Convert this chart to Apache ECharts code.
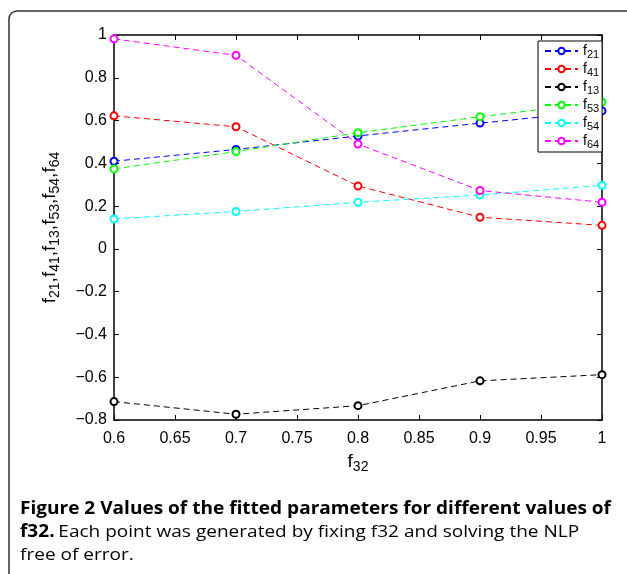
<!DOCTYPE html>
<html>
<head>
<meta charset="utf-8">
<title>Figure 2</title>
<script src="https://cdn.jsdelivr.net/npm/echarts@6/dist/echarts.min.js"></script>
<style>
  html, body { margin: 0; padding: 0; background: #fff; }
  #chart { width: 627px; height: 574px; }
</style>
</head>
<body>
<div id="chart"></div>
<script>
// f32 values on the x axis
var f32Values = [0.6, 0.7, 0.8, 0.9, 1.0]
// fitted parameters
var f21 = [0.41, 0.465, 0.528, 0.588, 0.645]
var f41 = [0.622, 0.571, 0.294, 0.148, 0.11]
var f13 = [-0.714, -0.773, -0.733, -0.617, -0.588]
var f53 = [0.374, 0.455, 0.543, 0.618, 0.686]
var f54 = [0.14, 0.175, 0.218, 0.252, 0.297]
var f64 = [0.982, 0.905, 0.49, 0.273, 0.218]

var seriesNames = ['f21', 'f41', 'f13', 'f53', 'f54', 'f64']
var seriesValues = [f21, f41, f13, f53, f54, f64]
var seriesColors = ['#0000ff', '#ff0000', '#000000', '#00ff00', '#00ffff', '#ff00ff']

var xTicks = { min: 0.6, max: 1, interval: 0.05 }
var yTicks = { min: -0.8, max: 1, interval: 0.2 }

// f + subscript, used for the axis names
var subRich = {
  m: { fontFamily: 'Liberation Sans', fontSize: 19, color: '#000', lineHeight: 24, verticalAlign: 'middle' },
  s: { fontFamily: 'Liberation Sans', fontSize: 14, color: '#000', lineHeight: 12, verticalAlign: 'bottom' }
}

function subName(name) {
  return '{m|' + name.charAt(0) + '}{s|' + name.slice(1) + '}'
}

function buildSeries() {
  return seriesNames.map(function (name, i) {
    return {
      name: name,
      type: 'line',
      data: f32Values.map(function (x, j) { return [x, seriesValues[i][j]] }),
      symbol: 'emptyCircle',
      symbolSize: 7,
      lineStyle: { color: seriesColors[i], width: 1, type: [6, 4] },
      itemStyle: { color: seriesColors[i], borderColor: seriesColors[i], borderWidth: 1 },
      emphasis: { disabled: true },
      animation: false
    }
  })
}

var chartDom = document.getElementById('chart')
var myChart = echarts.init(chartDom)

var tickLabel = { fontFamily: 'Liberation Sans', fontSize: 16, color: '#000' }
var boxLine = { show: true, onZero: false, lineStyle: { color: '#000', width: 1.5 } }
var boxTick = { inside: true, length: 5, lineStyle: { color: '#000' } }

var option = {
  backgroundColor: '#fff',
  grid: { left: 114, right: 25, top: 35, bottom: 154 },
  legend: {
    orient: 'vertical',
    left: 538,
    top: 41,
    padding: [3, 3, 2, 6],
    itemWidth: 33,
    itemHeight: 8,
    itemGap: 2,
    backgroundColor: '#fff',
    borderColor: '#000',
    borderWidth: 1,
    data: seriesNames,
    formatter: function (name) {
      return '{m|f}{s|' + name.slice(1) + '}'
    },
    textStyle: {
      rich: {
        m: { fontFamily: 'Liberation Sans', fontSize: 14, color: '#000', lineHeight: 18, verticalAlign: 'middle' },
        s: { fontFamily: 'Liberation Sans', fontSize: 11, color: '#000', lineHeight: 4, verticalAlign: 'bottom' }
      }
    }
  },
  xAxis: [
    {
      type: 'value',
      min: xTicks.min,
      max: xTicks.max,
      interval: xTicks.interval,
      name: subName('f32'),
      nameLocation: 'middle',
      nameGap: 30,
      nameTextStyle: { rich: subRich },
      axisLine: boxLine,
      axisTick: boxTick,
      axisLabel: Object.assign({ margin: 11, formatter: function (v) { return String(+v.toFixed(2)) } }, tickLabel),
      splitLine: { show: false }
    },
    {
      type: 'value',
      position: 'top',
      min: xTicks.min,
      max: xTicks.max,
      interval: xTicks.interval,
      axisLine: boxLine,
      axisTick: boxTick,
      axisLabel: { show: false },
      splitLine: { show: false }
    }
  ],
  yAxis: [
    {
      type: 'value',
      min: yTicks.min,
      max: yTicks.max,
      interval: yTicks.interval,
      name: seriesNames.map(subName).join('{m|,}'),
      nameLocation: 'middle',
      nameRotate: 90,
      nameGap: 52,
      nameTextStyle: { rich: subRich },
      axisLine: boxLine,
      axisTick: boxTick,
      axisLabel: Object.assign({ margin: 7, formatter: function (v) { return String(+v.toFixed(1)).replace('-', '\u2212') } }, tickLabel),
      splitLine: { show: false }
    },
    {
      type: 'value',
      position: 'right',
      min: yTicks.min,
      max: yTicks.max,
      interval: yTicks.interval,
      axisLine: boxLine,
      axisTick: boxTick,
      axisLabel: { show: false },
      splitLine: { show: false }
    }
  ],
  graphic: [
    {
      type: 'rect',
      shape: { x: 9, y: 11, width: 700, height: 700, r: 8 },
      style: { fill: 'none', stroke: '#333', lineWidth: 1.5 },
      silent: true
    },
    {
      type: 'text',
      x: 20,
      y: 498,
      scaleX: 1.12,
      style: {
        text: '{b|Figure 2 Values of the fitted parameters for different values of}\n{b|f32.} {r|Each point was generated by fixing f32 and solving the NLP}\n{r|free of error.}',
        rich: {
          b: { fontFamily: 'Open Sans', fontWeight: 'bold', fontSize: 17, color: '#333', lineHeight: 23 },
          r: { fontFamily: 'Open Sans', fontSize: 17, color: '#555', lineHeight: 23 }
        }
      },
      silent: true
    }
  ],
  series: buildSeries()
}
option && myChart.setOption(option)
</script>
</body>
</html>
